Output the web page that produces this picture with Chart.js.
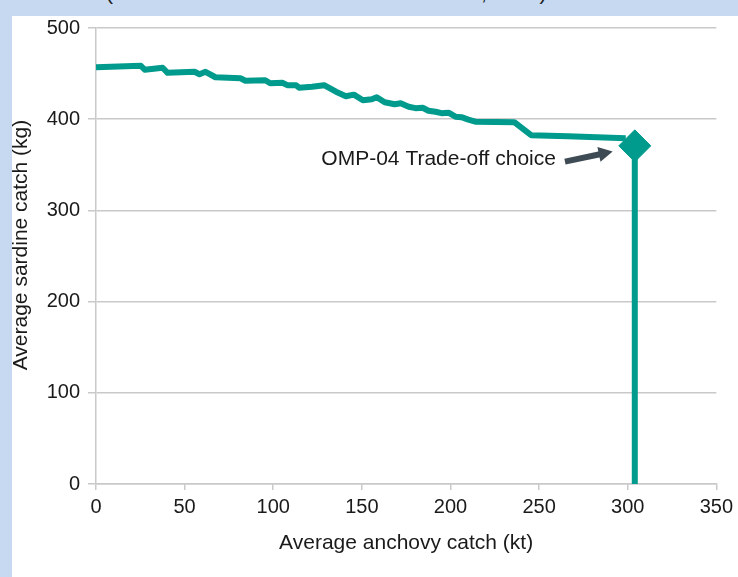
<!DOCTYPE html>
<html>
<head>
<meta charset="utf-8">
<script src="https://cdn.jsdelivr.net/npm/chart.js@4.4.1/dist/chart.umd.min.js"></script>
<style>
  html, body { margin: 0; padding: 0; }
  body {
    width: 738px; height: 577px; position: relative; overflow: hidden;
    background: #c6d9f0;
    font-family: 'Liberation Sans', Arial, sans-serif;
  }
  #head { position: absolute; left: 0; top: 0; width: 738px; height: 16px; overflow: hidden; }
  #head span { position: absolute; top: -17px; font-size: 21px; line-height: 20px; color: #1e1e1e; white-space: nowrap; }
  #panel { position: absolute; left: 12px; top: 16px; width: 726px; height: 561px; background: #fff; }
</style>
</head>
<body>
<div id="head"><span style="left:106px">(Trade-off between sardine and anchovies</span><span style="left:481px">, 2004)</span></div>
<div id="panel"><canvas id="tradeoff" width="726" height="561"></canvas></div>
<script>
(function () {
  'use strict';

  // ── Data ──
  // trade-off frontier: average anchovy catch (kt) vs average sardine catch (kg)
  const anchovy = [0, 25.3, 27.5, 37.6, 40.4, 55.6, 58.4, 61.8, 67.4, 81.5, 84.3, 95.5, 98.3,
    105.1, 107.9, 112.9, 114.6, 121.9, 128.7, 135.4, 141.0, 145.5, 150.6, 155.6, 158.4, 162.9,
    168.5, 171.9, 176.4, 180.3, 184.3, 187.6, 191.6, 194.9, 198.9, 202.8, 206.2, 210.1, 214.0,
    236.0, 245.5, 266.3, 298.9];
  const sardine = [457.0, 458.6, 454.2, 456.4, 450.9, 452.0, 449.3, 452.0, 446.0, 444.9, 442.2, 442.7, 439.4,
    440.0, 437.3, 437.3, 434.5, 435.6, 437.3, 430.1, 425.2, 426.9, 420.8, 421.9, 424.1, 418.6,
    416.4, 417.5, 413.7, 412.1, 412.6, 409.3, 408.2, 406.6, 407.1, 402.8, 402.2, 399.5, 397.3,
    396.7, 382.5, 381.4, 379.2];

  // OMP-04 chosen point
  const choiceAnchovy = 304;
  const choiceSardine = 370.8;
  const choiceLabel = 'OMP-04 Trade-off choice';
  // arrow tail / tip in data units
  const arrowFrom = [264.6, 353.5];
  const arrowTo = [291.5, 364.5];

  const xTicks = [0, 50, 100, 150, 200, 250, 300, 350];
  const yTicks = [0, 100, 200, 300, 400, 500];
  const xTitle = 'Average anchovy catch (kt)';
  const yTitle = 'Average sardine catch (kg)';

  // ── Style ──
  const TEAL = '#009b8c';
  const INK = '#1a1a1a';
  const ARROW = '#3e4a54';
  const GRID = '#c9c9c9';
  const FONT = "'Liberation Sans', Arial, sans-serif";

  const yTitlePlugin = {
    id: 'yTitle',
    afterDraw(chart) {
      const ctx = chart.ctx;
      ctx.save();
      ctx.translate(9, 229);
      ctx.rotate(-Math.PI / 2);
      ctx.font = `21px ${FONT}`;
      ctx.fillStyle = INK;
      ctx.textAlign = 'center';
      ctx.textBaseline = 'middle';
      ctx.fillText(yTitle, 0, 0);
      ctx.restore();
    }
  };

  const choiceArrow = {
    id: 'choiceArrow',
    afterDatasetsDraw(chart) {
      const { ctx, scales: { x, y } } = chart;
      const x0 = x.getPixelForValue(arrowFrom[0]);
      const y0 = y.getPixelForValue(arrowFrom[1]);
      const x1 = x.getPixelForValue(arrowTo[0]);
      const y1 = y.getPixelForValue(arrowTo[1]);
      const ang = Math.atan2(y1 - y0, x1 - x0);
      const head = 14;
      const bx = x1 - Math.cos(ang) * head;
      const by = y1 - Math.sin(ang) * head;
      ctx.save();
      ctx.strokeStyle = ARROW;
      ctx.fillStyle = ARROW;
      ctx.lineWidth = 6;
      ctx.beginPath();
      ctx.moveTo(x0, y0);
      ctx.lineTo(bx + Math.cos(ang), by + Math.sin(ang));
      ctx.stroke();
      ctx.beginPath();
      ctx.moveTo(x1, y1);
      ctx.lineTo(bx + Math.sin(ang) * 7.5, by - Math.cos(ang) * 7.5);
      ctx.lineTo(bx - Math.sin(ang) * 7.5, by + Math.cos(ang) * 7.5);
      ctx.closePath();
      ctx.fill();

      ctx.font = `21px ${FONT}`;
      ctx.fillStyle = INK;
      ctx.textAlign = 'right';
      ctx.textBaseline = 'alphabetic';
      ctx.fillText(choiceLabel, x0 - 9, y0 + 3.5);
      ctx.restore();
    }
  };

  new Chart(document.getElementById('tradeoff'), {
    type: 'scatter',
    data: {
      datasets: [
        {
          // chosen point (drawn on top)
          data: [{ x: choiceAnchovy, y: choiceSardine }],
          pointStyle: 'rectRot',
          pointRadius: 16,
          backgroundColor: TEAL,
          borderColor: TEAL,
          borderWidth: 1,
        },
        {
          data: anchovy.map((v, i) => ({ x: v, y: sardine[i] })),
          showLine: true,
          borderColor: TEAL,
          borderWidth: 6,
          borderJoinStyle: 'round',
          pointRadius: 0,
          tension: 0,
        },
        {
          // drop line from the chosen point to the axis
          data: [{ x: choiceAnchovy, y: 0 }, { x: choiceAnchovy, y: choiceSardine }],
          showLine: true,
          borderColor: TEAL,
          borderWidth: 6,
          pointRadius: 0,
        }
      ]
    },
    options: {
      responsive: false,
      animation: false,
      devicePixelRatio: 1,
      events: [],
      layout: { autoPadding: false, padding: { top: 12, right: 19, left: 0, bottom: 0 } },
      plugins: { legend: { display: false }, tooltip: { enabled: false } },
      scales: {
        x: {
          type: 'linear',
          min: xTicks[0],
          max: xTicks[xTicks.length - 1],
          grid: { drawOnChartArea: false, drawTicks: true, tickLength: 6, color: GRID, lineWidth: 1.5 },
          border: { color: GRID, width: 1.5 },
          ticks: { stepSize: xTicks[1] - xTicks[0], font: { family: FONT, size: 20 }, color: INK, padding: 5, maxRotation: 0 },
          title: { display: true, text: xTitle, font: { family: FONT, size: 21 }, color: INK, padding: { top: 0, bottom: 21 } },
          afterFit: s => { s.height = 93; }
        },
        y: {
          type: 'linear',
          min: yTicks[0],
          max: yTicks[yTicks.length - 1],
          grid: { color: GRID, lineWidth: 1.5, drawTicks: true, tickLength: 8 },
          border: { color: GRID, width: 1.5 },
          ticks: { stepSize: yTicks[1] - yTicks[0], font: { family: FONT, size: 20 }, color: INK, padding: 8 },
          afterFit: s => { s.width = 84; s.paddingTop = 0; s.paddingBottom = 0; }
        }
      }
    },
    plugins: [yTitlePlugin, choiceArrow]
  });
})();
</script>
</body>
</html>
